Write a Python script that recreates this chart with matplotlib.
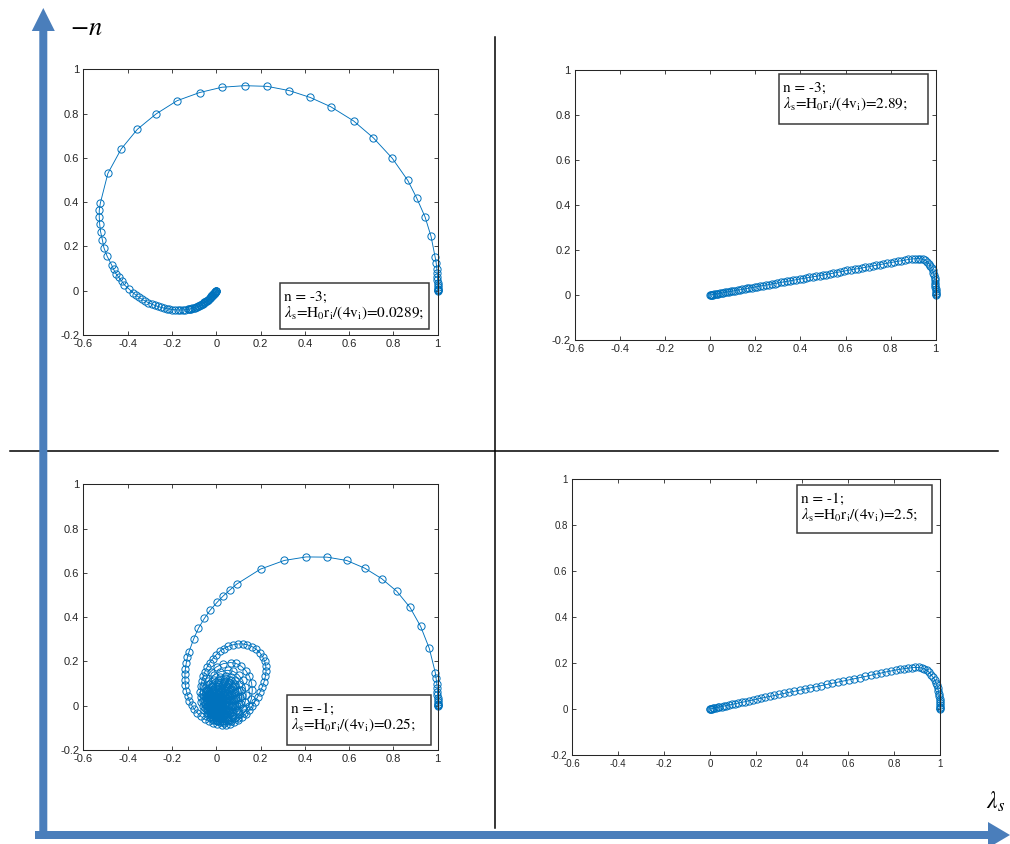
import matplotlib
matplotlib.use('Agg')
import matplotlib.pyplot as plt
from matplotlib.patches import Rectangle, FancyArrow

plt.rcParams['axes.unicode_minus'] = False
plt.rcParams['mathtext.fontset'] = 'stix'

W, H = 1010, 844

# ---------------- data ----------------
XTICKS = [-0.6, -0.4, -0.2, 0, 0.2, 0.4, 0.6, 0.8, 1]
XTICK_LABELS = ['-0.6', '-0.4', '-0.2', '0', '0.2', '0.4', '0.6', '0.8', '1']
YTICKS = [-0.2, 0, 0.2, 0.4, 0.6, 0.8, 1]
YTICK_LABELS = ['-0.2', '0', '0.2', '0.4', '0.6', '0.8', '1']

PANEL_N = ['-3', '-3', '-1', '-1']
PANEL_LAMBDA = ['0.0289', '2.89', '0.25', '2.5']

# n = -3, lambda_s = 0.0289
TL_POINTS = [
    (1.000, 0.000), (1.000, 0.002), (1.000, 0.005), (1.000, 0.010), (1.000, 0.017),
    (1.000, 0.025), (1.000, 0.035), (0.999, 0.047), (0.999, 0.061), (0.998, 0.079),
    (0.996, 0.100), (0.993, 0.126), (0.988, 0.154),
    (0.970, 0.245), (0.943, 0.333), (0.905, 0.419), (0.865, 0.498), (0.795, 0.598),
    (0.710, 0.690), (0.620, 0.767), (0.517, 0.831), (0.424, 0.873), (0.329, 0.904),
    (0.230, 0.923), (0.128, 0.926), (0.026, 0.919), (-0.075, 0.895), (-0.177, 0.858),
    (-0.272, 0.798), (-0.356, 0.729), (-0.429, 0.640), (-0.489, 0.530), (-0.523, 0.396),
    (-0.528, 0.363), (-0.528, 0.333), (-0.526, 0.300), (-0.522, 0.267), (-0.514, 0.230),
    (-0.507, 0.194), (-0.492, 0.155), (-0.472, 0.116), (-0.463, 0.096), (-0.453, 0.077),
    (-0.441, 0.062), (-0.427, 0.044), (-0.414, 0.026), (-0.395, 0.009), (-0.376, -0.009),
    (-0.362, -0.020), (-0.348, -0.030), (-0.334, -0.039), (-0.320, -0.047), (-0.306, -0.054),
    (-0.292, -0.060), (-0.278, -0.066), (-0.264, -0.071), (-0.250, -0.075), (-0.237, -0.078),
    (-0.224, -0.081), (-0.211, -0.083), (-0.198, -0.085), (-0.186, -0.086), (-0.174, -0.087),
    (-0.162, -0.087), (-0.150, -0.087), (-0.139, -0.086), (-0.128, -0.084), (-0.122, -0.083),
    (-0.117, -0.082), (-0.112, -0.081), (-0.107, -0.079), (-0.102, -0.078), (-0.097, -0.076),
    (-0.092, -0.074), (-0.087, -0.072), (-0.082, -0.070), (-0.078, -0.068), (-0.073, -0.066),
    (-0.069, -0.063), (-0.065, -0.061), (-0.061, -0.058), (-0.057, -0.056), (-0.053, -0.053),
    (-0.049, -0.050), (-0.046, -0.048), (-0.042, -0.045), (-0.039, -0.042), (-0.036, -0.040),
    (-0.033, -0.037), (-0.030, -0.034), (-0.027, -0.031), (-0.024, -0.028), (-0.022, -0.026),
    (-0.019, -0.023), (-0.017, -0.021), (-0.015, -0.018), (-0.013, -0.016), (-0.011, -0.014),
    (-0.009, -0.012), (-0.007, -0.010), (-0.006, -0.008), (-0.005, -0.006), (-0.004, -0.005),
    (-0.003, -0.003), (-0.002, -0.002), (-0.001, -0.001), (0.000, 0.000),
]

# n = -3, lambda_s = 2.89
TR_POINTS = [
    (1.000, 0.000), (1.000, 0.005), (1.000, 0.011), (1.000, 0.018), (1.000, 0.026),
    (0.999, 0.035), (0.999, 0.045), (0.998, 0.055), (0.997, 0.066), (0.995, 0.077),
    (0.993, 0.088), (0.990, 0.099), (0.986, 0.110), (0.982, 0.121), (0.976, 0.131),
    (0.970, 0.140), (0.962, 0.148), (0.953, 0.154), (0.943, 0.158), (0.932, 0.161),
    (0.920, 0.162), (0.907, 0.161), (0.893, 0.160), (0.879, 0.158), (0.864, 0.155),
    (0.848, 0.152), (0.832, 0.150), (0.816, 0.147), (0.800, 0.144), (0.784, 0.141),
    (0.768, 0.138), (0.752, 0.135), (0.736, 0.132), (0.720, 0.129), (0.704, 0.126),
    (0.688, 0.123), (0.672, 0.120), (0.656, 0.117), (0.640, 0.115), (0.624, 0.112),
    (0.608, 0.109), (0.592, 0.106), (0.576, 0.103), (0.560, 0.100), (0.545, 0.097),
    (0.530, 0.094), (0.515, 0.091), (0.500, 0.089), (0.485, 0.086), (0.470, 0.083),
    (0.455, 0.081), (0.440, 0.078), (0.425, 0.076), (0.410, 0.073), (0.396, 0.071),
    (0.382, 0.068), (0.368, 0.066), (0.354, 0.063), (0.340, 0.061), (0.326, 0.058),
    (0.312, 0.056), (0.298, 0.053), (0.285, 0.051), (0.272, 0.049), (0.259, 0.046),
    (0.246, 0.044), (0.233, 0.042), (0.221, 0.040), (0.209, 0.037), (0.197, 0.035),
    (0.185, 0.033), (0.174, 0.031), (0.163, 0.029), (0.152, 0.027), (0.141, 0.025),
    (0.131, 0.023), (0.121, 0.022), (0.111, 0.020), (0.101, 0.018), (0.092, 0.016),
    (0.083, 0.015), (0.074, 0.013), (0.066, 0.012), (0.058, 0.010), (0.050, 0.009),
    (0.043, 0.008), (0.036, 0.006), (0.030, 0.005), (0.024, 0.004), (0.018, 0.003),
    (0.013, 0.002), (0.009, 0.002), (0.005, 0.001), (0.002, 0.000), (0.000, 0.000),
]

# n = -1, lambda_s = 0.25
BL_POINTS = [
    (1.000, 0.000), (1.000, 0.002), (1.000, 0.005), (1.000, 0.010), (1.000, 0.016),
    (1.000, 0.024), (1.000, 0.034), (0.999, 0.047), (0.999, 0.063), (0.998, 0.080),
    (0.996, 0.100), (0.993, 0.123), (0.989, 0.150),
    (0.962, 0.259), (0.923, 0.358), (0.875, 0.444), (0.815, 0.517), (0.747, 0.574),
    (0.671, 0.621), (0.589, 0.656), (0.501, 0.671), (0.406, 0.672), (0.307, 0.656),
    (0.200, 0.617), (0.092, 0.549), (0.062, 0.523), (0.032, 0.496), (0.005, 0.468),
    (-0.026, 0.433), (-0.053, 0.395), (-0.080, 0.350), (-0.102, 0.301), (-0.123, 0.243),
    (-0.130, 0.218), (-0.135, 0.193), (-0.139, 0.168), (-0.141, 0.143), (-0.141, 0.118),
    (-0.139, 0.093), (-0.135, 0.068), (-0.129, 0.045), (-0.121, 0.023), (-0.111, 0.003),
    (-0.099, -0.016), (-0.085, -0.033), (-0.069, -0.048), (-0.052, -0.061), (-0.034, -0.071),
    (-0.015, -0.079), (0.004, -0.084), (0.024, -0.086), (0.044, -0.085), (0.063, -0.081),
    (0.082, -0.074), (0.100, -0.064), (0.117, -0.052), (0.133, -0.037), (0.148, -0.020),
    (0.162, -0.001), (0.175, 0.019), (0.187, 0.040), (0.198, 0.062), (0.208, 0.085),
    (0.216, 0.108), (0.222, 0.132), (0.225, 0.155), (0.224, 0.178), (0.219, 0.200),
    (0.210, 0.221), (0.197, 0.240), (0.181, 0.255), (0.162, 0.267), (0.141, 0.275),
    (0.119, 0.279), (0.097, 0.279), (0.075, 0.275), (0.054, 0.268), (0.034, 0.258),
    (0.016, 0.246), (0.000, 0.230), (-0.015, 0.213), (-0.029, 0.195), (-0.041, 0.175),
    (-0.051, 0.154), (-0.059, 0.132), (-0.065, 0.110), (-0.069, 0.087), (-0.071, 0.064),
    (-0.070, 0.041), (-0.067, 0.019), (-0.061, -0.002), (-0.053, -0.021), (-0.042, -0.038),
    (-0.029, -0.052), (-0.014, -0.063), (0.002, -0.071), (0.019, -0.075), (0.036, -0.076),
    (0.069, -0.071), (0.100, -0.056), (0.126, -0.033), (0.146, -0.003), (0.159, 0.032),
    (0.163, 0.070), (0.160, 0.102), (0.150, 0.133), (0.134, 0.158), (0.114, 0.178),
    (0.090, 0.191), (0.065, 0.195), (0.032, 0.190), (0.002, 0.176), (-0.025, 0.154),
    (-0.045, 0.125), (-0.058, 0.091), (-0.062, 0.055), (-0.059, 0.022), (-0.050, -0.009),
    (-0.035, -0.035), (-0.016, -0.055), (0.006, -0.068), (0.030, -0.072), (0.057, -0.068),
    (0.083, -0.056), (0.104, -0.036), (0.121, -0.011), (0.131, 0.018), (0.135, 0.050),
    (0.131, 0.084), (0.119, 0.115), (0.101, 0.139), (0.078, 0.155), (0.052, 0.160),
    (0.019, 0.154), (-0.011, 0.138), (-0.035, 0.113), (-0.050, 0.081), (-0.055, 0.045),
    (-0.051, 0.010), (-0.040, -0.021), (-0.022, -0.046), (0.001, -0.063), (0.026, -0.068),
    (0.054, -0.063), (0.078, -0.047), (0.098, -0.023), (0.111, 0.008), (0.115, 0.042),
    (0.112, 0.071), (0.101, 0.097), (0.085, 0.117), (0.065, 0.130), (0.043, 0.135),
    (0.015, 0.130), (-0.011, 0.117), (-0.031, 0.096), (-0.044, 0.069), (-0.048, 0.040),
    (-0.045, 0.008), (-0.034, -0.021), (-0.019, -0.043), (0.001, -0.058), (0.023, -0.063),
    (0.049, -0.058), (0.072, -0.044), (0.090, -0.021), (0.102, 0.008), (0.106, 0.039),
    (0.101, 0.072), (0.087, 0.099), (0.065, 0.118), (0.040, 0.124),
    (0.007, 0.117), (-0.020, 0.099), (-0.039, 0.070), (-0.045, 0.037),
    (-0.040, 0.000), (-0.026, -0.032), (-0.004, -0.053), (0.021, -0.060),
    (0.051, -0.053), (0.075, -0.032), (0.092, -0.001), (0.098, 0.036),
    (0.093, 0.066), (0.080, 0.091), (0.060, 0.108), (0.036, 0.114),
    (0.007, 0.108), (-0.018, 0.091), (-0.035, 0.065), (-0.041, 0.035),
    (-0.036, 0.000), (-0.023, -0.029), (-0.003, -0.049), (0.020, -0.056),
    (0.047, -0.049), (0.070, -0.030), (0.085, -0.001), (0.090, 0.033),
    (0.086, 0.061), (0.073, 0.084), (0.055, 0.100), (0.033, 0.105),
    (0.006, 0.100), (-0.017, 0.084), (-0.033, 0.061), (-0.038, 0.033),
    (-0.034, 0.000), (-0.021, -0.027), (-0.003, -0.046), (0.019, -0.052),
    (0.044, -0.046), (0.064, -0.028), (0.078, -0.001), (0.083, 0.031),
    (0.079, 0.056), (0.068, 0.077), (0.050, 0.091), (0.030, 0.096),
    (0.006, 0.091), (-0.015, 0.077), (-0.029, 0.056), (-0.034, 0.031),
    (-0.030, 0.001), (-0.019, -0.025), (-0.002, -0.042), (0.018, -0.048),
    (0.040, -0.042), (0.059, -0.025), (0.072, -0.001), (0.076, 0.029),
    (0.072, 0.052), (0.062, 0.071), (0.046, 0.084), (0.028, 0.088),
    (0.005, 0.084), (-0.014, 0.071), (-0.027, 0.052), (-0.031, 0.029),
    (-0.027, 0.001), (-0.017, -0.023), (-0.001, -0.038), (0.017, -0.044),
    (0.037, -0.039), (0.055, -0.023), (0.066, 0.000), (0.070, 0.027),
    (0.067, 0.047), (0.057, 0.065), (0.043, 0.076), (0.026, 0.080),
    (0.006, 0.076), (-0.012, 0.065), (-0.023, 0.047), (-0.027, 0.027),
    (-0.024, 0.002), (-0.014, -0.020), (0.000, -0.034), (0.016, -0.039),
    (0.034, -0.034), (0.050, -0.020), (0.060, 0.001), (0.064, 0.025),
    (0.061, 0.043), (0.052, 0.059), (0.039, 0.069), (0.024, 0.073),
    (0.006, 0.069), (-0.010, 0.059), (-0.020, 0.043), (-0.024, 0.025),
    (-0.021, 0.002), (-0.013, -0.017), (0.000, -0.030), (0.015, -0.034),
    (0.032, -0.030), (0.045, -0.017), (0.055, 0.002), (0.058, 0.024),
    (0.055, 0.040), (0.048, 0.054), (0.036, 0.063), (0.022, 0.066),
    (0.006, 0.063), (-0.008, 0.054), (-0.017, 0.040), (-0.020, 0.024),
    (-0.017, 0.004), (-0.010, -0.013), (0.002, -0.025), (0.015, -0.029),
    (0.027, -0.025), (0.038, -0.014), (0.045, 0.003), (0.047, 0.022),
    (0.045, 0.034), (0.039, 0.045), (0.030, 0.052), (0.019, 0.054),
    (0.007, 0.052), (-0.004, 0.045), (-0.011, 0.034), (-0.013, 0.022),
    (-0.011, 0.006), (-0.005, -0.007), (0.004, -0.016), (0.014, -0.019),
    (0.023, -0.016), (0.030, -0.008), (0.035, 0.005), (0.037, 0.020),
    (0.036, 0.029), (0.031, 0.036), (0.025, 0.041), (0.017, 0.043),
    (0.008, 0.041), (0.000, 0.036), (-0.005, 0.029), (-0.007, 0.020),
    (-0.005, 0.009), (-0.001, -0.001), (0.006, -0.008), (0.014, -0.010),
    (0.020, -0.008), (0.025, -0.002), (0.028, 0.008), (0.029, 0.019),
    (0.028, 0.025), (0.025, 0.030), (0.020, 0.033), (0.015, 0.034),
    (0.008, 0.033), (0.003, 0.030), (0.000, 0.025), (-0.002, 0.019),
    (-0.001, 0.011), (0.003, 0.004), (0.008, 0.000), (0.014, -0.002),
    (0.020, 0.002), (0.023, 0.008), (0.024, 0.014), (0.022, 0.020),
    (0.018, 0.023), (0.014, 0.023), (0.011, 0.020), (0.010, 0.016),
    (0.012, 0.013), (0.015, 0.013), (0.016, 0.016), (0.014, 0.018),
]

# n = -1, lambda_s = 2.5
BR_POINTS = [
    (1.000, 0.000), (1.000, 0.005), (1.000, 0.011), (1.000, 0.018), (0.999, 0.026),
    (0.999, 0.035), (0.998, 0.045), (0.997, 0.056), (0.995, 0.067), (0.993, 0.079),
    (0.990, 0.091), (0.987, 0.103), (0.982, 0.115), (0.977, 0.127), (0.970, 0.138),
    (0.962, 0.148), (0.953, 0.160), (0.943, 0.169), (0.932, 0.175), (0.920, 0.179),
    (0.907, 0.181), (0.893, 0.181), (0.878, 0.180), (0.862, 0.178), (0.845, 0.176),
    (0.827, 0.173), (0.808, 0.170), (0.788, 0.166), (0.767, 0.162), (0.745, 0.157),
    (0.722, 0.152), (0.699, 0.147), (0.676, 0.142), (0.652, 0.137), (0.628, 0.132),
    (0.604, 0.127), (0.580, 0.122), (0.556, 0.117), (0.532, 0.112), (0.508, 0.107),
    (0.484, 0.102), (0.460, 0.097), (0.436, 0.092), (0.413, 0.087), (0.390, 0.082),
    (0.367, 0.077), (0.345, 0.073), (0.323, 0.068), (0.302, 0.064), (0.281, 0.059),
    (0.261, 0.055), (0.241, 0.051), (0.222, 0.047), (0.204, 0.043), (0.186, 0.039),
    (0.169, 0.036), (0.153, 0.032), (0.138, 0.029), (0.123, 0.026), (0.109, 0.023),
    (0.096, 0.020), (0.084, 0.018), (0.072, 0.015), (0.061, 0.013), (0.051, 0.011),
    (0.042, 0.009), (0.034, 0.007), (0.027, 0.006), (0.020, 0.004), (0.014, 0.003),
    (0.009, 0.002), (0.005, 0.001), (0.002, 0.000), (0.000, 0.000),
]

# ---------------- figure ----------------
LINE_C = '#0072BD'
ARROW_C = '#4a7ebb'
TICK_C = '#262626'

fig = plt.figure(figsize=(W / 100, H / 100), dpi=100)


def frac_box(x0, y0, x1, y1):
    return [x0 / W, 1 - y1 / H, (x1 - x0) / W, (y1 - y0) / H]


panels = [
    (TL_POINTS, (83.3, 69.3, 437.7, 335.0), (280.0, 283.0, 429.0, 329.0), 8.0),
    (TR_POINTS, (575.0, 70.0, 935.7, 340.0), (779.3, 74.3, 927.7, 124.3), 8.0),
    (BL_POINTS, (83.3, 484.3, 437.7, 750.0), (286.7, 695.0, 430.7, 745.3), 8.0),
    (BR_POINTS, (571.7, 479.3, 940.0, 755.0), (797.3, 485.0, 931.7, 533.3), 7.0),
]

for pts, box, _, tfs in panels:
    ax = fig.add_axes(frac_box(*box))
    xs = [p[0] for p in pts]
    ys = [p[1] for p in pts]
    ax.plot(xs, ys, '-o', color=LINE_C, lw=0.65, ms=5.2, mfc='none',
            mec=LINE_C, mew=0.7, clip_on=False)
    ax.set_xlim(-0.6, 1)
    ax.set_ylim(-0.2, 1)
    ax.set_xticks(XTICKS)
    ax.set_xticklabels(XTICK_LABELS, fontfamily='Liberation Sans', fontsize=tfs, color=TICK_C)
    ax.set_yticks(YTICKS)
    ax.set_yticklabels(YTICK_LABELS, fontfamily='Liberation Sans', fontsize=tfs, color=TICK_C)
    ax.tick_params(direction='in', top=True, right=True, length=3, width=0.6,
                   color=TICK_C, pad=3.0)
    for s in ax.spines.values():
        s.set_linewidth(0.75)
        s.set_color(TICK_C)

# overlay in pixel coordinates
ov = fig.add_axes([0, 0, 1, 1])
ov.set_xlim(0, W)
ov.set_ylim(H, 0)
ov.axis('off')

# quadrant dividers
ov.plot([495, 495], [37, 828], color='black', lw=1.1)
ov.plot([10, 998], [451, 451], color='black', lw=1.1)

# legend boxes
for i, (_, _, lb, _) in enumerate(panels):
    x0, y0, x1, y1 = lb
    ov.add_patch(Rectangle((x0, y0), x1 - x0, y1 - y0, facecolor='white',
                           edgecolor='#3a3a3a', lw=1.1, zorder=5))
    ov.text(x0 + 4, y0 + 14, 'n = %s;' % PANEL_N[i], fontfamily='STIXGeneral',
            fontsize=11, ha='left', va='center', zorder=6)
    ov.text(x0 + 4, y0 + 30,
            r'$\lambda_{\rm s}$=H$_{\rm 0}$r$_{\rm i}$/(4v$_{\rm i}$)=' + PANEL_LAMBDA[i] + ';',
            fontfamily='STIXGeneral', fontsize=11, ha='left', va='center', zorder=6)

# big axis arrows
ov.add_patch(FancyArrow(43.3, 838, 0, -830, width=8, head_width=23, head_length=23,
                        length_includes_head=True, color=ARROW_C, lw=0, zorder=4))
ov.add_patch(FancyArrow(35, 835, 975, 0, width=8, head_width=26, head_length=22,
                        length_includes_head=True, color=ARROW_C, lw=0, zorder=4))

ov.text(86, 28, r'$-n$', fontsize=19, ha='center', va='center')
ov.text(996, 802, r'$\lambda_s$', fontsize=17, ha='center', va='center')

fig.savefig('out.png', dpi=100)
